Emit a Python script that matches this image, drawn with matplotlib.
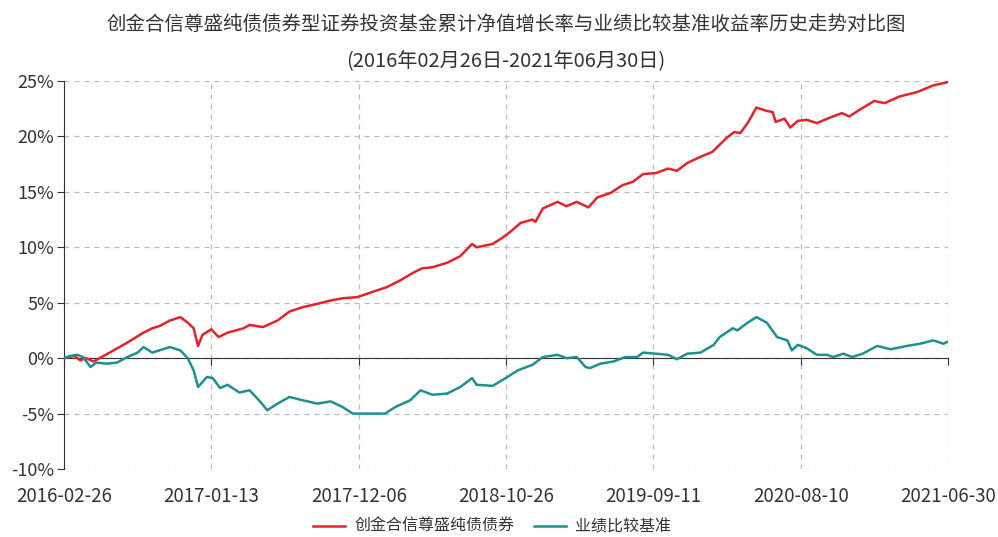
import matplotlib.pyplot as plt
from matplotlib.ticker import FuncFormatter

plt.rcParams['font.family'] = ['Noto Sans CJK SC', 'DejaVu Sans']

title = "创金合信尊盛纯债债券型证券投资基金累计净值增长率与业绩比较基准收益率历史走势对比图"
subtitle = "(2016年02月26日-2021年06月30日)"
date_labels = ["2016-02-26", "2017-01-13", "2017-12-06", "2018-10-26",
               "2019-09-11", "2020-08-10", "2021-06-30"]
fund_name = "创金合信尊盛纯债债券"
bench_name = "业绩比较基准"

# x in units of the date-label spacing (0 = first label, 6 = last)
fund_x = [0.00, 0.07, 0.11, 0.15, 0.20, 0.31, 0.43, 0.54, 0.60, 0.65, 0.72, 0.79,
          0.84, 0.88, 0.91, 0.94, 1.00, 1.05, 1.11, 1.22, 1.26, 1.35, 1.45, 1.53,
          1.62, 1.72, 1.81, 1.89, 1.99, 2.10, 2.19, 2.28, 2.37, 2.43, 2.50, 2.60,
          2.69, 2.77, 2.80, 2.91, 2.98, 3.03, 3.10, 3.18, 3.20, 3.25, 3.35, 3.41,
          3.48, 3.56, 3.62, 3.71, 3.79, 3.86, 3.93, 4.02, 4.10, 4.16, 4.23, 4.31,
          4.40, 4.50, 4.55, 4.59, 4.64, 4.70, 4.77, 4.81, 4.83, 4.89, 4.93, 4.98,
          5.04, 5.11, 5.20, 5.28, 5.33, 5.40, 5.50, 5.57, 5.67, 5.79, 5.90, 6.00]
fund_y = [0.0, 0.2, -0.2, 0.0, -0.3, 0.5, 1.4, 2.3, 2.7, 2.9, 3.4, 3.7,
          3.2, 2.7, 1.1, 2.1, 2.6, 1.9, 2.3, 2.7, 3.0, 2.8, 3.4, 4.2,
          4.6, 4.9, 5.2, 5.4, 5.5, 6.0, 6.4, 7.0, 7.7, 8.1, 8.2, 8.6,
          9.2, 10.3, 10.0, 10.3, 10.9, 11.4, 12.2, 12.5, 12.3, 13.5, 14.1, 13.7,
          14.1, 13.6, 14.5, 14.9, 15.6, 15.9, 16.6, 16.7, 17.1, 16.9, 17.6, 18.1,
          18.6, 19.9, 20.4, 20.3, 21.2, 22.6, 22.3, 22.2, 21.3, 21.6, 20.8, 21.4,
          21.5, 21.2, 21.7, 22.1, 21.8, 22.4, 23.2, 23.0, 23.6, 24.0, 24.6, 24.9]

bench_x = [0.00, 0.04, 0.09, 0.13, 0.18, 0.22, 0.29, 0.36, 0.43, 0.50, 0.54, 0.60,
           0.67, 0.72, 0.79, 0.84, 0.88, 0.91, 0.97, 1.01, 1.06, 1.11, 1.19, 1.26,
           1.33, 1.38, 1.45, 1.53, 1.62, 1.72, 1.81, 1.89, 1.96, 2.06, 2.18, 2.25,
           2.35, 2.42, 2.50, 2.60, 2.69, 2.77, 2.80, 2.91, 3.01, 3.08, 3.18, 3.25,
           3.35, 3.41, 3.48, 3.54, 3.57, 3.64, 3.73, 3.81, 3.89, 3.93, 4.02, 4.10,
           4.16, 4.23, 4.32, 4.41, 4.45, 4.54, 4.57, 4.64, 4.70, 4.77, 4.84, 4.91,
           4.94, 4.98, 5.04, 5.11, 5.18, 5.22, 5.29, 5.35, 5.42, 5.52, 5.61, 5.72,
           5.81, 5.90, 5.97, 6.00]
bench_y = [0.0, 0.2, 0.3, 0.1, -0.8, -0.4, -0.5, -0.4, 0.1, 0.5, 1.0, 0.5,
           0.8, 1.0, 0.7, 0.0, -1.1, -2.6, -1.7, -1.8, -2.7, -2.4, -3.1, -2.9,
           -3.9, -4.7, -4.1, -3.5, -3.8, -4.1, -3.9, -4.4, -5.0, -5.0, -5.0, -4.4,
           -3.8, -2.9, -3.3, -3.2, -2.6, -1.8, -2.4, -2.5, -1.7, -1.1, -0.6, 0.1,
           0.3, 0.0, 0.1, -0.8, -0.9, -0.5, -0.3, 0.1, 0.1, 0.5, 0.4, 0.3,
           -0.1, 0.4, 0.5, 1.2, 1.9, 2.7, 2.5, 3.2, 3.7, 3.2, 1.9, 1.6,
           0.7, 1.2, 0.9, 0.3, 0.3, 0.1, 0.4, 0.1, 0.4, 1.1, 0.8, 1.1,
           1.3, 1.6, 1.3, 1.5]

y_ticks = [-10, -5, 0, 5, 10, 15, 20, 25]

fig = plt.figure(figsize=(9.98, 5.37), dpi=100)
ax = fig.add_axes([0.0641, 0.1266, 0.8858, 0.7226])

ax.plot(fund_x, fund_y, color="#e3222b", lw=1.8, label=fund_name, zorder=3)
ax.plot(bench_x, bench_y, color="#1f8f8f", lw=1.8, label=bench_name, zorder=3)

ax.set_xlim(0, 6)
ax.set_ylim(-10, 25)
ax.set_yticks(y_ticks)
ax.yaxis.set_major_formatter(FuncFormatter(lambda v, p: f"{v:.0f}%"))
ax.set_xticks(range(len(date_labels)))
ax.set_xticklabels(date_labels)

ax.grid(True, ls=(0, (4, 4)), color="#bbbbbb", lw=0.9)
for s in ["top", "right"]:
    ax.spines[s].set_visible(False)
ax.spines["bottom"].set_position(("data", 0))
ax.spines["bottom"].set_color("#333333")
ax.spines["left"].set_color("#333333")
ax.tick_params(axis="x", direction="out", length=5, color="#333333",
               labelsize=13.5, labelcolor="#333333", pad=87)
ax.tick_params(axis="y", direction="out", length=5, color="#333333",
               labelsize=13, labelcolor="#333333", pad=2)
ax.set_axisbelow(True)

fig.text(0.507, 0.955, title, ha="center", va="center", fontsize=14, color="#333333")
fig.text(0.507, 0.886, subtitle, ha="center", va="center", fontsize=14.5, color="#333333")

fig.legend(loc="center", bbox_to_anchor=(0.493, 0.019), ncol=2, frameon=False,
           fontsize=11.5, handlelength=2.0, columnspacing=1.2, handletextpad=0.6,
           labelcolor="#333333", borderpad=0.1)

fig.savefig("out.png", dpi=100)
